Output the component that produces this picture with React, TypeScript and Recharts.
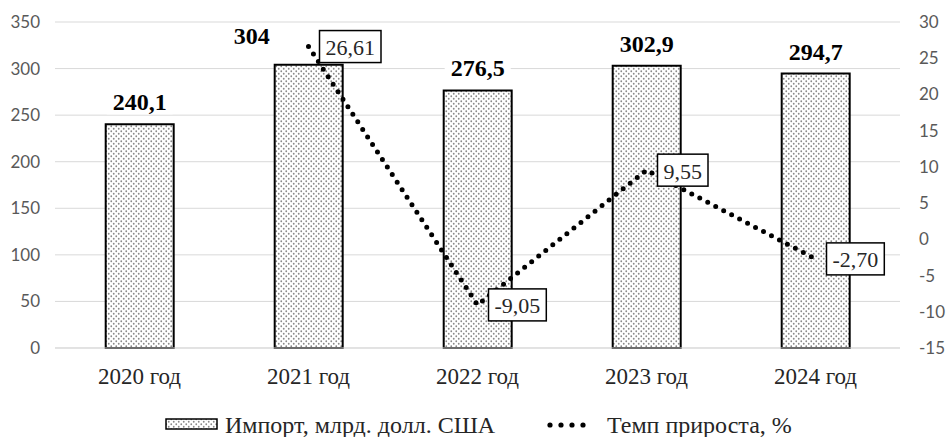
import React from "react";
import { Bar, CartesianGrid, ComposedChart, LabelList, Legend, Line, XAxis, YAxis } from "recharts";

const years = ["2020 год", "2021 год", "2022 год", "2023 год", "2024 год"];
const importValues = [240.1, 304, 276.5, 302.9, 294.7];
const growthValues: (number | null)[] = [null, 26.61, -9.05, 9.55, -2.7];
const leftTicks = [0, 50, 100, 150, 200, 250, 300, 350];
const rightTicks = [-15, -10, -5, 0, 5, 10, 15, 20, 25, 30];

const data = years.map((year, i) => ({ year, imp: importValues[i], growth: growthValues[i] }));

// the "304" label sits left of its bar in the original, clear of the line label
const barLabelShift: Record<number, { dx: number; dy: number }> = { 1: { dx: -57, dy: -7 } };

const serif = "Liberation Serif";
const tickFont = { fill: "#595959", fontSize: 17, fontFamily: "Lato" };

const comma = (v: number, digits?: number) =>
  (digits === undefined ? String(v) : v.toFixed(digits)).replace(".", ",");

function BarValueLabel(props: any) {
  const { x, y, width, value, index } = props;
  const shift = barLabelShift[index] || { dx: 0, dy: 0 };
  const cx = Number(x) + Number(width) / 2 + shift.dx;
  const cy = Number(y) - 22 + shift.dy;
  const text = comma(Number(value));
  const w = text.length * 12 + 6;
  return (
    <g>
      <rect x={cx - w / 2} y={cy - 12} width={w} height={24} fill="#fff" />
      <text
        x={cx}
        y={cy}
        textAnchor="middle"
        dominantBaseline="central"
        fontFamily={serif}
        fontWeight="bold"
        fontSize={24}
        fill="#000"
      >
        {text}
      </text>
    </g>
  );
}

function GrowthLabel(props: any) {
  const { x, y, value } = props;
  if (value === null || value === undefined) return null;
  const text = comma(Number(value), 2);
  let w = 12;
  for (const ch of text) w += ch === "," ? 5.5 : ch === "-" ? 7.3 : 11;
  const left = Number(x) + 11;
  return (
    <g>
      <rect x={left} y={Number(y) - 16} width={w} height={32} fill="#fff" stroke="#000" strokeWidth={1.5} />
      <text
        x={left + w / 2}
        y={Number(y) + 1}
        textAnchor="middle"
        dominantBaseline="central"
        fontFamily={serif}
        fontSize={22}
        fill="#262626"
      >
        {text}
      </text>
    </g>
  );
}

function ChartLegend() {
  return (
    <svg width={946} height={39} style={{ display: "block" }}>
      <rect x={166} y={21} width={51} height={10} fill="url(#dots)" stroke="#000" strokeWidth={1.5} />
      <text x={225} y={27} dominantBaseline="central" fontFamily={serif} fontSize={24} fill="#262626">
        Импорт, млрд. долл. США
      </text>
      {[550, 561, 572, 583].map((cx) => (
        <circle key={cx} cx={cx} cy={27} r={2.6} fill="#000" />
      ))}
      <text x={607} y={27} dominantBaseline="central" fontFamily={serif} fontSize={24} fill="#262626">
        Темп прироста, %
      </text>
    </svg>
  );
}

export default function App() {
  return (
    <div style={{ position: "absolute", left: 0, top: 0, width: 946, height: 437, background: "#fff" }}>
      <ComposedChart width={946} height={437} data={data} margin={{ top: 22, right: 0, bottom: 0, left: 0 }} barCategoryGap="30%">
        <defs>
          <pattern id="dots" width={5} height={5} patternUnits="userSpaceOnUse">
            <rect width={5} height={5} fill="#fff" />
            <circle cx={1.25} cy={1.25} r={0.9} fill="#8a8a8a" />
            <circle cx={3.75} cy={3.75} r={0.9} fill="#8a8a8a" />
          </pattern>
        </defs>
        <CartesianGrid yAxisId="left" stroke="#d9d9d9" vertical={false} />
        <XAxis
          dataKey="year"
          height={50}
          tickLine={false}
          axisLine={{ stroke: "#d9d9d9" }}
          tick={{ fill: "#262626", fontSize: 23, fontFamily: serif }}
          tickMargin={14}
        />
        <YAxis
          yAxisId="left"
          domain={[0, 350]}
          ticks={leftTicks}
          width={55}
          axisLine={false}
          tickLine={false}
          tickMargin={9}
          tick={tickFont}
        />
        <YAxis
          yAxisId="right"
          orientation="right"
          domain={[-15, 30]}
          ticks={rightTicks}
          width={46}
          axisLine={false}
          tickLine={false}
          tickMargin={13}
          tick={{ ...tickFont, textAnchor: "start" }}
        />
        <Legend verticalAlign="bottom" height={39} content={() => <ChartLegend />} />
        <Bar yAxisId="left" dataKey="imp" fill="url(#dots)" stroke="#000" strokeWidth={2} isAnimationActive={false}>
          <LabelList dataKey="imp" content={<BarValueLabel />} />
        </Bar>
        <Line
          yAxisId="right"
          dataKey="growth"
          stroke="#000"
          strokeWidth={5}
          strokeDasharray="0 9"
          strokeLinecap="round"
          dot={false}
          activeDot={false}
          isAnimationActive={false}
        >
          <LabelList dataKey="growth" content={<GrowthLabel />} />
        </Line>
      </ComposedChart>
    </div>
  );
}
